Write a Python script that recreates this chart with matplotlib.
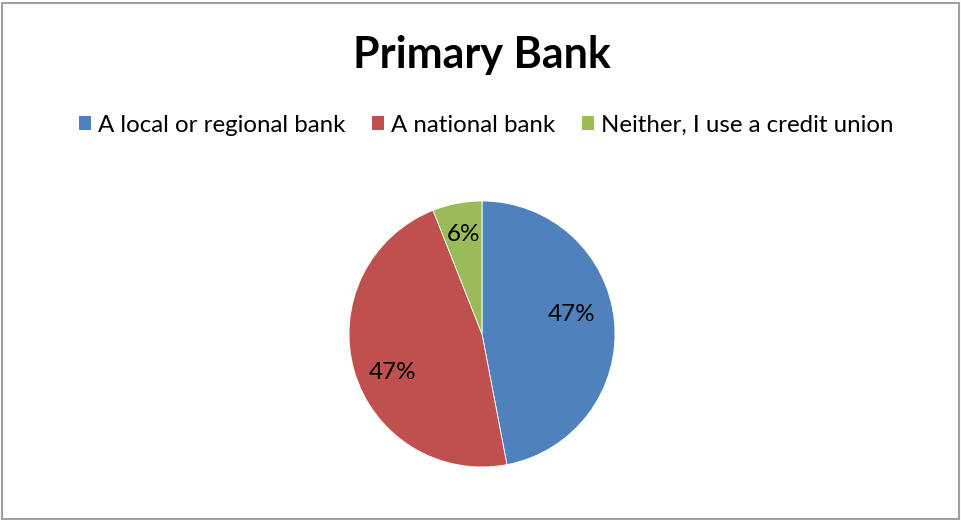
import numpy as np
import matplotlib
matplotlib.use("Agg")
import matplotlib.pyplot as plt
from matplotlib.patches import Rectangle, Patch

plt.rcParams["font.family"] = ["Lato", "DejaVu Sans"]

# survey answers and their shares (percent)
categories = ["A local or regional bank", "A national bank", "Neither, I use a credit union"]
shares = [47, 47, 6]
colors = ["#4F81BD", "#C0504D", "#9BBB59"]

W, H = 961, 520
fig = plt.figure(figsize=(W / 100, H / 100), dpi=100)

# pie axes, square box centred under the legend
ax = fig.add_axes([349 / W, 53 / H, 266 / W, 266 / H])
wedges, texts, autotexts = ax.pie(
    shares,
    colors=colors,
    startangle=90,
    counterclock=False,
    radius=1,
    autopct="%1.0f%%",
    pctdistance=0.7,
    wedgeprops=dict(edgecolor="white", linewidth=0.6),
    textprops=dict(fontsize=17.5, color="black"),
)
ax.set_xlim(-1, 1)
ax.set_ylim(-1, 1)
ax.set_aspect("equal")

# nudge percent labels around like the spreadsheet best-fit placement
offsets = [(7, 0.69), (7, 0.73), (0, 0.76)]
for w, t, (dang, dist) in zip(wedges, autotexts, offsets):
    mid = np.deg2rad((w.theta1 + w.theta2) / 2 + dang)
    t.set_position((dist * np.cos(mid), dist * np.sin(mid)))

fig.text(482 / W, 1 - 55 / H, "Primary Bank", ha="center", va="center",
         fontsize=31, fontweight="bold")

handles = [Patch(facecolor=c, edgecolor="none") for c in colors]
fig.legend(handles, categories, loc="center", bbox_to_anchor=(486 / W, 1 - 125 / H),
           ncol=3, frameon=False, fontsize=17.3, handlelength=0.5, handleheight=0.5,
           handletextpad=0.3, columnspacing=1.1)

# grey outline around the chart area
fig.patches.append(Rectangle((1.5 / W, 1.5 / H), (W - 4) / W, (H - 4) / H,
                             transform=fig.transFigure, fill=False,
                             edgecolor="#a0a0a0", linewidth=1.5))

fig.savefig("out.png", dpi=100)
